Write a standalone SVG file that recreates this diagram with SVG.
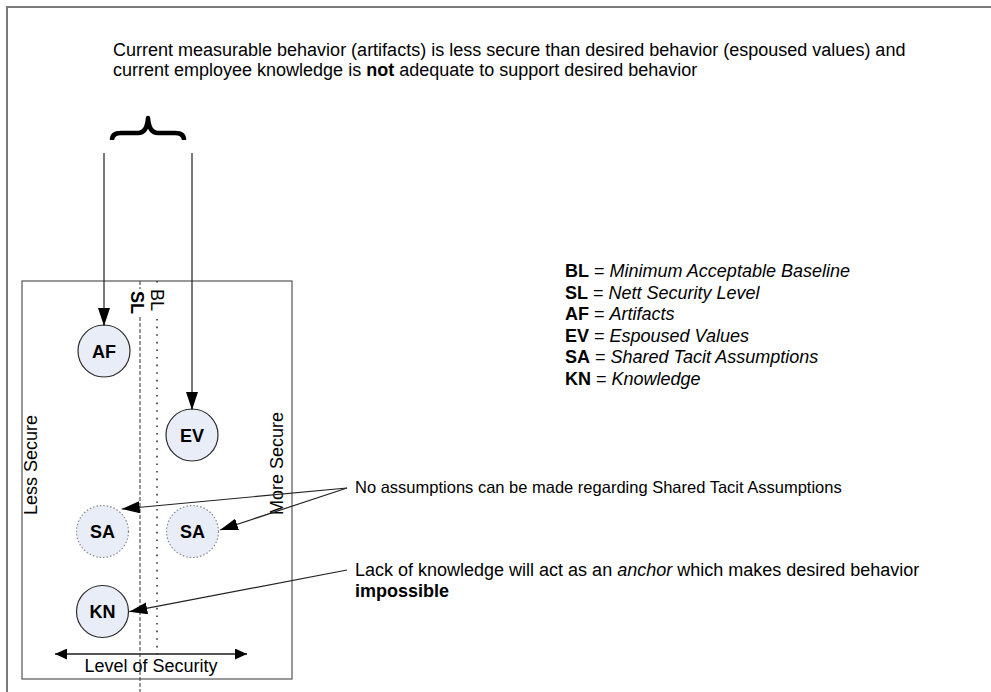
<svg xmlns="http://www.w3.org/2000/svg" width="991" height="692" viewBox="0 0 991 692">
  <defs>
    <style>
      text { font-family: "Liberation Sans", Arial, sans-serif; font-size: 18px; fill: #000; }
      .b { font-weight: bold; }
      .i { font-style: italic; }
      .small { font-size: 16.5px; }
      .node { fill: #e8edf7; stroke: #2b2b2b; stroke-width: 1.2; }
      .tacit { fill: #e8edf7; stroke: #8a8a8a; stroke-width: 1.2; stroke-dasharray: 1.5 2; }
      .lbl { font-weight: bold; text-anchor: middle; }
      .conn { stroke: #222; stroke-width: 1.2; fill: none; }
    </style>
    <marker id="arrow" markerUnits="userSpaceOnUse" markerWidth="18" markerHeight="12" refX="18" refY="6" orient="auto">
      <path d="M0,0 L18,6 L0,12 z" fill="#000"/>
    </marker>
    <marker id="tipEnd" markerUnits="userSpaceOnUse" markerWidth="12" markerHeight="11" refX="12" refY="5.5" orient="auto">
      <path d="M0,0 L12,5.5 L0,11 z" fill="#000"/>
    </marker>
    <marker id="tipStart" markerUnits="userSpaceOnUse" markerWidth="12" markerHeight="11" refX="0" refY="5.5" orient="auto">
      <path d="M12,0 L0,5.5 L12,11 z" fill="#000"/>
    </marker>
  </defs>

  <rect width="991" height="692" fill="#fff"/>

  <!-- page frame -->
  <path d="M7,692 L7,7 L991,7" fill="none" stroke="#7a7a7a" stroke-width="2"/>

  <!-- heading -->
  <g id="heading">
    <text x="113" y="56">Current measurable behavior (artifacts) is less secure than desired behavior (espoused values) and</text>
    <text x="113" y="76">current employee knowledge is <tspan class="b">not</tspan> adequate to support desired behavior</text>
  </g>

  <!-- brace grouping AF and EV -->
  <g id="brace">
    <path d="M112,140 Q112,133 121,133 L138,133 Q147,133 148,118 Q149,133 158,133 L175,133 Q184,133 184,140" fill="none" stroke="#000" stroke-width="4.5" stroke-linejoin="round"/>
  </g>

  <!-- legend -->
  <g id="legend">
    <text x="565" y="277"><tspan class="b">BL</tspan> = <tspan class="i">Minimum Acceptable Baseline</tspan></text>
    <text x="565" y="298.6"><tspan class="b">SL</tspan> = <tspan class="i">Nett Security Level</tspan></text>
    <text x="565" y="320.2"><tspan class="b">AF</tspan> = <tspan class="i">Artifacts</tspan></text>
    <text x="565" y="341.8"><tspan class="b">EV</tspan> = <tspan class="i">Espoused Values</tspan></text>
    <text x="565" y="363.4"><tspan class="b">SA</tspan> = <tspan class="i">Shared Tacit Assumptions</tspan></text>
    <text x="565" y="385"><tspan class="b">KN</tspan> = <tspan class="i">Knowledge</tspan></text>
  </g>

  <!-- security scale panel -->
  <g id="scale">
    <rect x="22" y="281" width="270" height="398" fill="none" stroke="#555" stroke-width="1.2"/>
    <text transform="translate(37,515) rotate(-90)">Less Secure</text>
    <text transform="translate(283,515) rotate(-90)">More Secure</text>
    <line x1="55" y1="654" x2="247" y2="654" stroke="#555" stroke-width="2" marker-start="url(#tipStart)" marker-end="url(#tipEnd)"/>
    <text x="151" y="672" text-anchor="middle">Level of Security</text>
  </g>

  <!-- nett security level line -->
  <g id="sl-line">
    <line x1="140" y1="281" x2="140" y2="692" stroke="#333" stroke-width="1" stroke-dasharray="4 2"/>
    <rect x="130" y="289" width="16" height="26" fill="#fff"/>
    <text class="b" transform="translate(131,291) rotate(90)">SL</text>
  </g>

  <!-- minimum baseline line -->
  <g id="bl-line">
    <line x1="157" y1="281" x2="157" y2="660" stroke="#333" stroke-width="1.6" stroke-dasharray="1.6 6"/>
    <rect x="150" y="288" width="16" height="25" fill="#fff"/>
    <text transform="translate(151,289) rotate(90)">BL</text>
  </g>

  <!-- nodes -->
  <g id="node-af">
    <circle class="node" cx="104" cy="351" r="26"/>
    <text class="lbl" x="104" y="357.5">AF</text>
  </g>
  <g id="node-ev">
    <circle class="node" cx="192" cy="435" r="26"/>
    <text class="lbl" x="192" y="441.5">EV</text>
  </g>
  <g id="node-sa-low">
    <circle class="tacit" cx="102.5" cy="531.5" r="26"/>
    <text class="lbl" x="102.5" y="538">SA</text>
  </g>
  <g id="node-sa-high">
    <circle class="tacit" cx="192.5" cy="531.5" r="26"/>
    <text class="lbl" x="192.5" y="538">SA</text>
  </g>
  <g id="node-kn">
    <circle class="node" cx="102.5" cy="611.5" r="26"/>
    <text class="lbl" x="102.5" y="618">KN</text>
  </g>

  <!-- callout notes -->
  <g id="note-sa">
    <text class="small" x="355" y="493">No assumptions can be made regarding Shared Tacit Assumptions</text>
  </g>
  <g id="note-kn">
    <text x="355" y="576">Lack of knowledge will act as an <tspan class="i">anchor</tspan> which makes desired behavior</text>
    <text x="355" y="597" class="b">impossible</text>
  </g>

  <!-- connectors -->
  <g id="connectors">
    <line class="conn" x1="104" y1="153" x2="104" y2="326" marker-end="url(#arrow)"/>
    <line class="conn" x1="192" y1="153" x2="192" y2="410" marker-end="url(#arrow)"/>
    <line class="conn" x1="347" y1="488" x2="121.7" y2="509" marker-end="url(#arrow)"/>
    <line class="conn" x1="347" y1="488" x2="220" y2="530" marker-end="url(#arrow)"/>
    <line class="conn" x1="347" y1="570" x2="129.3" y2="611.7" marker-end="url(#arrow)"/>
  </g>
</svg>
